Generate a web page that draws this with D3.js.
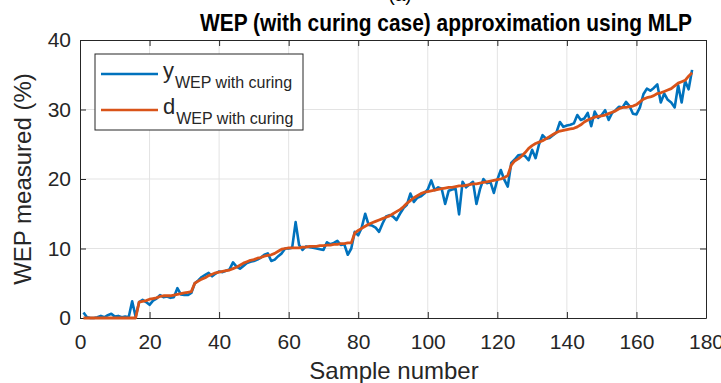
<!DOCTYPE html>
<html>
<head>
<meta charset="utf-8">
<script src="https://cdnjs.cloudflare.com/ajax/libs/d3/7.8.5/d3.min.js"></script>
<style>
  html, body { margin: 0; padding: 0; background: #fff; }
  svg { display: block; font-family: "Liberation Sans", Arial, Helvetica, sans-serif; }
</style>
</head>
<body>
<div id="chart"></div>
<script>
// WEP (with curing case) approximation using MLP
// y = network output, d = measured target, one value per sample (1..176)

const xTicks = [0, 20, 40, 60, 80, 100, 120, 140, 160, 180];
const yTicks = [0, 10, 20, 30, 40];

// network output (blue)
const yWep = [
  0.8, 0.1, 0.0, 0.0, 0.1, 0.3, 0.1, 0.4, 0.6, 0.2,
  0.3, 0.1, 0.2, 0.1, 2.4, 0.2, 2.3, 2.6, 2.3, 1.9,
  2.5, 2.8, 3.3, 3.0, 3.1, 2.9, 3.0, 4.3, 3.4, 3.3,
  3.3, 3.6, 5.0, 5.4, 5.9, 6.2, 6.5, 6.0, 6.4, 6.7,
  6.6, 6.8, 7.0, 8.0, 7.4, 7.1, 7.5, 7.9, 8.1, 8.2,
  8.4, 8.7, 9.1, 9.3, 8.2, 8.4, 8.9, 9.3, 10.0, 10.0,
  10.1, 13.8, 10.5, 9.8, 10.3, 10.2, 10.1, 10.0, 9.9, 9.8,
  10.9, 10.6, 10.8, 11.1, 10.5, 10.6, 9.1, 10.0, 12.4, 11.9,
  13.0, 15.0, 13.4, 13.3, 13.0, 12.4, 13.6, 14.6, 14.8, 14.6,
  14.1, 15.0, 15.8, 16.3, 17.9, 16.7, 17.3, 17.5, 17.9, 18.5,
  19.8, 18.4, 18.8, 18.6, 16.4, 18.3, 18.5, 18.6, 14.9, 19.6,
  18.8, 19.2, 19.6, 16.4, 18.5, 20.0, 19.4, 19.6, 18.0, 19.9,
  21.3, 19.9, 18.9, 22.3, 22.8, 23.4, 23.5, 23.3, 22.7, 24.2,
  23.0, 25.0, 26.3, 25.8, 25.9, 26.3, 26.7, 28.2, 27.5, 27.7,
  27.8, 28.0, 29.2, 28.5, 28.7, 29.5, 27.6, 29.7, 28.8, 29.2,
  29.9, 28.5, 29.5, 29.9, 30.4, 30.3, 31.1, 30.5, 29.4, 29.3,
  30.3, 32.2, 33.0, 32.7, 33.1, 33.6, 31.0, 32.3, 31.4, 31.0,
  30.3, 33.5, 31.0, 34.1, 32.9, 35.7
];

// measured target (orange)
const dWep = [
  0, 0, 0, 0, 0, 0, 0, 0, 0, 0,
  0, 0, 0, 0, 0, 0, 2.3, 2.4, 2.5, 2.7,
  2.8, 2.9, 3.1, 3.2, 3.2, 3.2, 3.3, 3.4, 3.5, 3.6,
  3.7, 3.8, 5.0, 5.3, 5.6, 5.8, 6.1, 6.3, 6.5, 6.6,
  6.7, 6.8, 6.9, 7.1, 7.3, 7.6, 7.9, 8.1, 8.3, 8.4,
  8.6, 8.7, 8.9, 9.0, 9.1, 9.3, 9.6, 9.9, 10.0, 10.1,
  10.1, 10.1, 10.1, 10.2, 10.2, 10.3, 10.3, 10.3, 10.4, 10.4,
  10.5, 10.5, 10.6, 10.6, 10.7, 10.7, 10.8, 10.8, 12.2, 12.6,
  12.9, 13.2, 13.5, 13.7, 13.9, 14.1, 14.3, 14.5, 14.7, 15.0,
  15.3, 15.6, 16.0, 16.5, 16.9, 17.3, 17.6, 17.9, 18.1, 18.2,
  18.3, 18.4, 18.5, 18.6, 18.7, 18.8, 18.8, 18.9, 19.0, 19.0,
  19.1, 19.2, 19.3, 19.3, 19.4, 19.5, 19.6, 19.7, 19.8, 19.9,
  20.0, 20.2, 20.5, 22.0, 22.6, 22.9, 23.3, 23.8, 24.4, 24.8,
  25.1, 25.3, 25.5, 25.8, 26.1, 26.4, 26.7, 26.9, 27.0, 27.1,
  27.2, 27.3, 27.5, 27.8, 28.2, 28.5, 28.7, 28.9, 29.0, 29.1,
  29.2, 29.4, 29.6, 29.8, 30.1, 30.3, 30.3, 30.4, 30.5, 30.7,
  31.1, 31.5, 31.7, 31.8, 32.0, 32.3, 32.4, 32.6, 32.8, 33.0,
  33.4, 33.8, 34.0, 34.2, 34.8, 35.3
];

const sampleNo = d3.range(1, yWep.length + 1);

const width = 721, height = 383;
const margin = { top: 40, right: 15, bottom: 65, left: 80 };
const plotW = width - margin.left - margin.right;
const plotH = height - margin.top - margin.bottom;

const axisColor = "#262626";
const blue = "#0072BD";
const orange = "#D95319";

const svg = d3.select("#chart").append("svg")
  .attr("width", width)
  .attr("height", height);

const x = d3.scaleLinear().domain([0, 180]).range([0, plotW]);
const y = d3.scaleLinear().domain([0, 40]).range([plotH, 0]);

const g = svg.append("g")
  .attr("transform", `translate(${margin.left},${margin.top})`);

// grid
g.append("g")
  .selectAll("line")
  .data(xTicks.slice(1, -1))
  .join("line")
  .attr("x1", d => x(d)).attr("x2", d => x(d))
  .attr("y1", 0).attr("y2", plotH)
  .attr("stroke", "#e3e3e3")
  .attr("stroke-width", 1);

g.append("g")
  .selectAll("line")
  .data(yTicks.slice(1, -1))
  .join("line")
  .attr("x1", 0).attr("x2", plotW)
  .attr("y1", d => y(d)).attr("y2", d => y(d))
  .attr("stroke", "#e3e3e3")
  .attr("stroke-width", 1);

// axes with inward ticks (box on, like matlab)
const tickLen = 6;
function styleAxis(sel) {
  sel.select(".domain").attr("stroke", axisColor);
  sel.selectAll(".tick line").attr("stroke", axisColor);
  sel.selectAll(".tick text")
    .attr("fill", axisColor)
    .style("font-size", "21px")
    .style("font-family", "'Liberation Sans', Arial, sans-serif");
}

g.append("g")
  .attr("transform", `translate(0,${plotH})`)
  .call(d3.axisBottom(x).tickValues(xTicks).tickSizeInner(-tickLen).tickSizeOuter(0).tickPadding(16))
  .call(styleAxis);

g.append("g")
  .call(d3.axisTop(x).tickValues(xTicks).tickSizeInner(-tickLen).tickSizeOuter(0).tickFormat(""))
  .call(styleAxis);

g.append("g")
  .call(d3.axisLeft(y).tickValues(yTicks).tickSizeInner(-tickLen).tickSizeOuter(0).tickPadding(9))
  .call(styleAxis);

g.append("g")
  .attr("transform", `translate(${plotW},0)`)
  .call(d3.axisRight(y).tickValues(yTicks).tickSizeInner(-tickLen).tickSizeOuter(0).tickFormat(""))
  .call(styleAxis);

// lines
const line = (vals) => d3.line()
  .x((d, i) => x(sampleNo[i]))
  .y(d => y(d))(vals);

g.append("path")
  .attr("d", line(yWep))
  .attr("fill", "none")
  .attr("stroke", blue)
  .attr("stroke-width", 2.6)
  .attr("stroke-linejoin", "round");

g.append("path")
  .attr("d", line(dWep))
  .attr("fill", "none")
  .attr("stroke", orange)
  .attr("stroke-width", 2.8)
  .attr("stroke-linejoin", "round");

// legend
const legend = svg.append("g").attr("transform", "translate(95,54)");
legend.append("rect")
  .attr("width", 208).attr("height", 76)
  .attr("fill", "#fff")
  .attr("stroke", axisColor)
  .attr("stroke-width", 1);

const legendItems = [
  { sym: "y", color: blue, ty: 20 },
  { sym: "d", color: orange, ty: 56 }
];
legendItems.forEach(item => {
  legend.append("line")
    .attr("x1", 6).attr("x2", 63)
    .attr("y1", item.ty).attr("y2", item.ty)
    .attr("stroke", item.color)
    .attr("stroke-width", 2.6);
  const t = legend.append("text")
    .attr("x", 68)
    .attr("y", item.ty + 4)
    .attr("fill", axisColor)
    .style("font-size", "22px")
    .text(item.sym);
  t.append("tspan")
    .attr("dy", 10)
    .attr("dx", 1)
    .style("font-size", "16px")
    .text("WEP with curing");
});

// title and labels
svg.append("text")
  .attr("x", 400).attr("y", 1)
  .attr("text-anchor", "middle")
  .attr("fill", "#000")
  .style("font-size", "19px")
  .text("(a)");

svg.append("text")
  .attr("x", 446).attr("y", 31)
  .attr("text-anchor", "middle")
  .attr("fill", "#000")
  .attr("textLength", 492)
  .attr("lengthAdjust", "spacingAndGlyphs")
  .style("font-size", "23px")
  .style("font-weight", "bold")
  .text("WEP (with curing case) approximation using MLP");

svg.append("text")
  .attr("x", 394).attr("y", 379)
  .attr("text-anchor", "middle")
  .attr("fill", axisColor)
  .style("font-size", "24px")
  .text("Sample number");

svg.append("text")
  .attr("transform", `translate(31,${margin.top + plotH / 2}) rotate(-90)`)
  .attr("text-anchor", "middle")
  .attr("fill", axisColor)
  .style("font-size", "24px")
  .text("WEP measured (%)");
</script>
</body>
</html>
